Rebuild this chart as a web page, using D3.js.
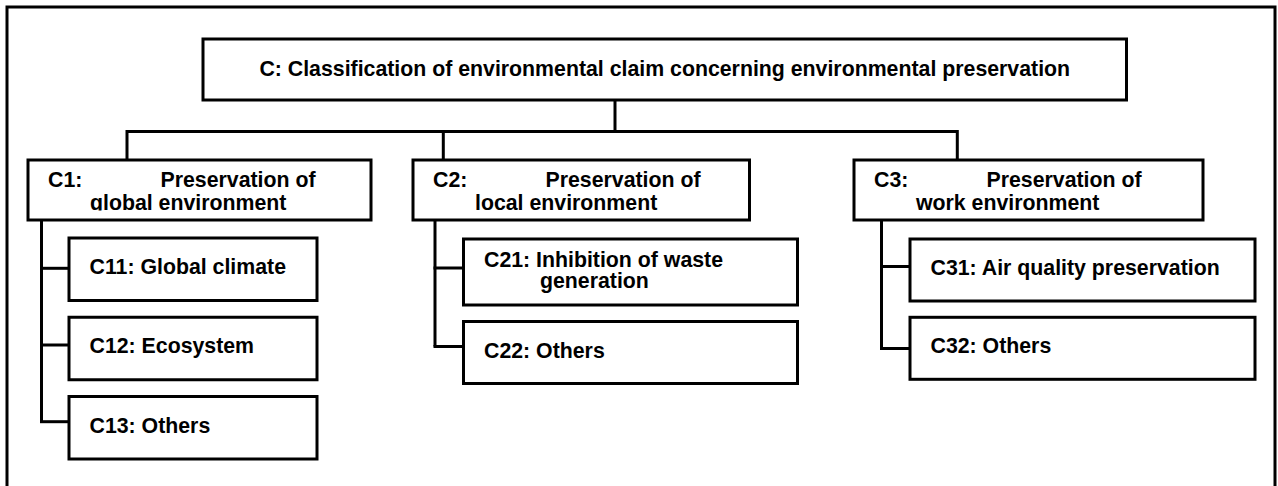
<!DOCTYPE html>
<html><head><meta charset="utf-8">
<script src="https://cdn.jsdelivr.net/npm/d3@7"></script>
<style>
html,body{margin:0;padding:0;background:#fff;}
svg{display:block;}
text{font-family:"Liberation Sans",Arial,Helvetica,sans-serif;font-weight:bold;font-size:21.3px;fill:#000;}
</style>
</head><body>
<svg id="chart" width="1278" height="486"></svg>
<script>
// ---- content ----
const rootLabel = "C: Classification of environmental claim concerning environmental preservation";
const groupCodes = ["C1", "C2", "C3"];
const groupLine1 = ["Preservation of", "Preservation of", "Preservation of"];
const groupLine2 = ["global environment", "local environment", "work environment"];
const leafCodes = [["C11", "C12", "C13"], ["C21", "C22"], ["C31", "C32"]];
const leafLines = [
  [["Global climate"], ["Ecosystem"], ["Others"]],
  [["Inhibition of waste", "generation"], ["Others"]],
  [["Air quality preservation"], ["Others"]]
];

// ---- hierarchy ----
const treeData = {
  name: "C", label: rootLabel,
  children: groupCodes.map((c, i) => ({
    name: c, line1: groupLine1[i], line2: groupLine2[i], col: i,
    children: leafCodes[i].map((lc, j) => ({ name: lc, lines: leafLines[i][j], col: i, row: j }))
  }))
};
const root = d3.hierarchy(treeData);

// ---- layout ----
const SW = 3;
const rootBox = { x: 203, y: 39, w: 923.5, h: 61 };
const busY = 131.5;
const groupY = 160, groupH = 60;
const groupX = d3.scaleOrdinal().domain(groupCodes).range([28, 413, 854]);
const groupW = d3.scaleOrdinal().domain(groupCodes).range([343, 336.5, 349]);
const dropX = d3.scaleOrdinal().domain(groupCodes).range([127, 443.3, 957.3]);
const spineX = d3.scaleOrdinal().domain(groupCodes).range([41.5, 435, 881.5]);
const leafX = [69, 463.5, 910];
const leafW = [248, 334, 345];
const leafBaseH = [62.5, 62, 62];
const leafTop = [
  d3.scaleLinear().domain([0, 1]).range([238, 317.25]),
  d3.scaleLinear().domain([0, 1]).range([239, 321.5]),
  d3.scaleLinear().domain([0, 1]).range([239, 317.3])
];
const tickY = [
  d3.scaleLinear().domain([0, 1]).range([268.3, 345]),
  d3.scaleLinear().domain([0, 1]).range([268, 346.5]),
  d3.scaleLinear().domain([0, 1]).range([266.5, 348.5])
];

const svg = d3.select("#chart");
svg.append("rect").attr("width", 1278).attr("height", 486).attr("fill", "#fff");

// outer frame
svg.append("rect")
  .attr("x", 7).attr("y", 7).attr("width", 1268).attr("height", 495)
  .attr("fill", "none").attr("stroke", "#000").attr("stroke-width", SW);

const lines = svg.append("g").attr("fill", "none").attr("stroke", "#000")
  .attr("stroke-width", SW).attr("stroke-linejoin", "miter").attr("stroke-linecap", "butt");

// root -> bus
const groups = root.children;
lines.append("path").attr("d", `M${615},${rootBox.y + rootBox.h}V${busY}`);
const xs = groups.map(g => dropX(g.data.name));
lines.append("path").attr("d",
  `M${d3.min(xs)},${groupY}V${busY}H${d3.max(xs)}V${groupY}`);
groups.forEach(g => {
  const x = dropX(g.data.name);
  if (x !== d3.min(xs) && x !== d3.max(xs)) lines.append("path").attr("d", `M${x},${busY}V${groupY}`);
});

// spines and ticks
groups.forEach(g => {
  const i = g.data.col;
  const sx = spineX(g.data.name);
  const n = g.children.length;
  lines.append("path").attr("d", `M${sx},${groupY + groupH}V${tickY[i](n - 1)}`);
  g.children.forEach(l => {
    const ty = tickY[i](l.data.row);
    lines.append("path").attr("d", `M${sx - SW / 2},${ty}H${leafX[i]}`);
  });
});

// root box
svg.append("rect").attr("x", rootBox.x).attr("y", rootBox.y).attr("width", rootBox.w).attr("height", rootBox.h)
  .attr("fill", "#fff").attr("stroke", "#000").attr("stroke-width", SW);
svg.append("text").attr("x", rootBox.x + rootBox.w / 2).attr("y", 76).attr("text-anchor", "middle")
  .text(root.data.label);

// group boxes
const defs = svg.append("defs");
groups.forEach(g => {
  const x = groupX(g.data.name), w = groupW(g.data.name);
  svg.append("rect").attr("x", x).attr("y", groupY).attr("width", w).attr("height", groupH)
    .attr("fill", "#fff").attr("stroke", "#000").attr("stroke-width", SW);
  const cid = "clip-" + g.data.name;
  defs.append("clipPath").attr("id", cid).append("rect")
    .attr("x", x).attr("y", groupY).attr("width", w).attr("height", 50.5);
  const t = svg.append("g").attr("clip-path", `url(#${cid})`);
  t.append("text").attr("x", x + 20).attr("y", 187).text(g.data.name + ":");
  t.append("text").attr("x", x + 132.5).attr("y", 187).text(g.data.line1);
  t.append("text").attr("x", x + 62).attr("y", 209.5).text(g.data.line2);
});

// leaf boxes
root.leaves().forEach(l => {
  const i = l.data.col, j = l.data.row;
  const y = leafTop[i](j);
  const h = leafBaseH[i] + (l.data.lines.length > 1 ? 4 : 0);
  svg.append("rect").attr("x", leafX[i]).attr("y", y).attr("width", leafW[i]).attr("height", h)
    .attr("fill", "#fff").attr("stroke", "#000").attr("stroke-width", SW);
  if (l.data.lines.length === 1) {
    svg.append("text").attr("x", leafX[i] + 20.5).attr("y", y + 36).text(l.data.name + ": " + l.data.lines[0]);
  } else {
    svg.append("text").attr("x", leafX[i] + 20.5).attr("y", y + 28).text(l.data.name + ": " + l.data.lines[0]);
    svg.append("text").attr("x", leafX[i] + 76.5).attr("y", y + 48.5).text(l.data.lines[1]);
  }
});
</script>
</body></html>
